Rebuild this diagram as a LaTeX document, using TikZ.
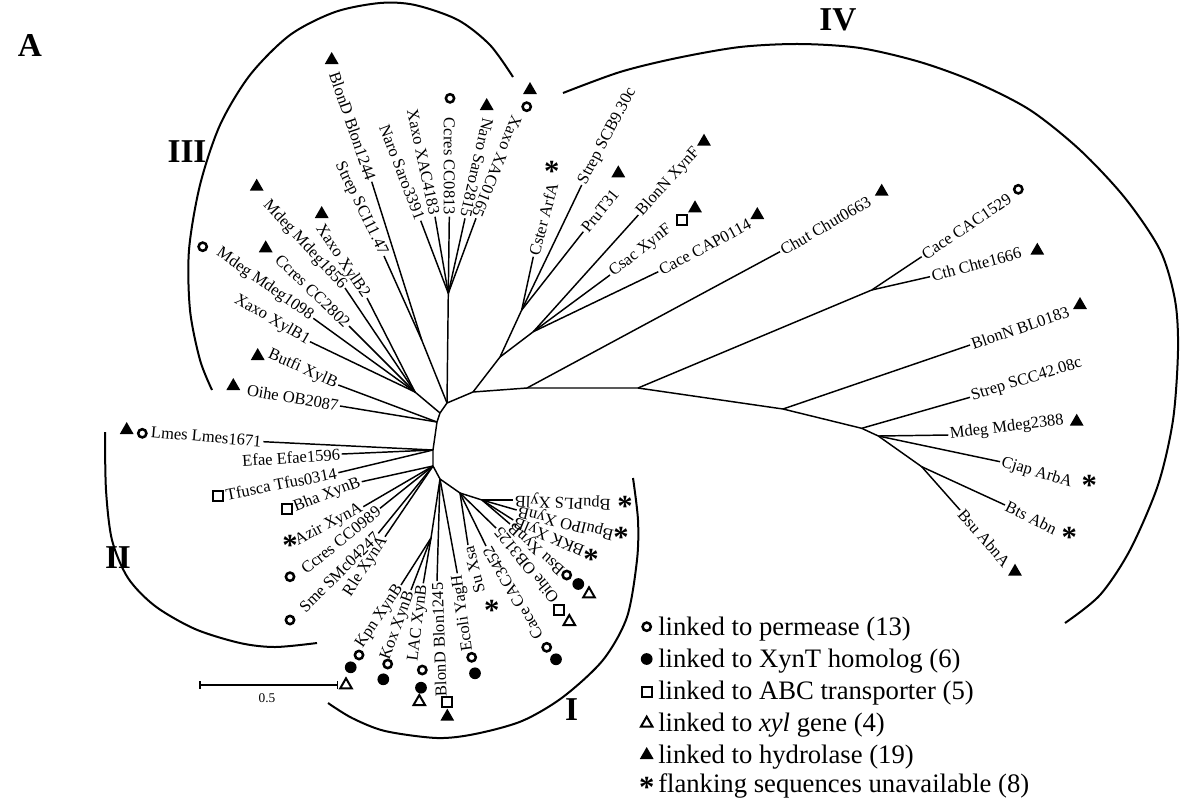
\documentclass[tikz,border=0pt]{standalone}
\usepackage{fontspec}
\setmainfont{Liberation Serif}
\usetikzlibrary{shapes.geometric}
\tikzset{
  branch/.style={line width=1.1pt},
  clade/.style={line width=1.5pt},
  lbl/.style={inner sep=1.2pt, font=\fontsize{12.4}{14}\selectfont},
  perm/.style={circle, draw, line width=1.9pt, minimum size=6.2pt, inner sep=0pt},
  xynt/.style={circle, fill, minimum size=8.8pt, inner sep=0pt},
  abc/.style={rectangle, draw, line width=1.6pt, minimum size=7.4pt, inner sep=0pt},
  xyl/.style={regular polygon, regular polygon sides=3, draw, line width=1.5pt, minimum size=10pt, inner sep=0pt},
  hyd/.style={regular polygon, regular polygon sides=3, fill, minimum size=12pt, inner sep=0pt},
  flank/.style={inner sep=0pt, font=\fontsize{23}{23}\selectfont\bfseries, text height=10pt, text depth=0pt, yshift=-6.4pt},
  cladename/.style={font=\fontsize{25}{25}\selectfont\bfseries},
  legtext/.style={anchor=base west, inner sep=0pt, font=\fontsize{20}{24}\selectfont}
}
\begin{document}
\begin{tikzpicture}[x=0.75pt, y=-0.75pt]
\useasboundingbox (0,0) rectangle (1181,801);

% inner ring and backbone
\coordinate (c1) at (447,403);
\coordinate (c2) at (473,392);
\coordinate (c3) at (527,388);
\coordinate (c4) at (638,388);
\coordinate (c5) at (440,413);
\coordinate (c6) at (437,422);
\coordinate (c7) at (433,450);
\coordinate (c8) at (433,466);
\coordinate (c9) at (440,479);
\coordinate (c10) at (460,493);
\coordinate (nD) at (500,357);
\coordinate (nA) at (521.7,310);
\coordinate (nB) at (533.3,331.7);
\coordinate (nN) at (448.3,293.3);
\coordinate (nM) at (421.7,340);
\coordinate (nX) at (415,392);
\coordinate (nK) at (431,538);
\coordinate (nB1) at (482,500);
\coordinate (n4a) at (871.7,290);
\coordinate (n4b) at (783,409);
\coordinate (n4s) at (861.7,428.3);
\coordinate (n4m) at (878.3,436);
\coordinate (n4c) at (921.7,466.7);

\draw[branch] (c2) -- (c1) -- (c5) -- (c6) -- (c7) -- (c8) -- (c9) -- (c10);
\draw[branch] (c2) -- (c3) -- (c4);
\draw[branch] (c2) -- (nD) -- (nA);
\draw[branch] (nD) -- (nB);
\draw[branch] (c1) -- (nN);
\draw[branch] (c1) -- (nM);
\draw[branch] (c5) -- (nX);
\draw[branch] (c9) -- (nK);
\draw[branch] (c10) -- (nB1);
\draw[branch] (c4) -- (n4a);
\draw[branch] (c4) -- (n4b) -- (n4s) -- (n4m) -- (n4c);

% leaves read outward
\foreach \nm/\up/\px/\py/\ang/\txt in {
  cac1529/n4a/921.7/256.7/34/Cace CAC1529,
  chte1666/n4a/930/276.7/15/Cth Chte1666,
  bl0183/n4b/970/345/19/BlonN BL0183,
  scc42/n4s/970/397.3/17/Strep SCC42.08c,
  mdeg2388/n4m/948.3/435/7/Mdeg Mdeg2388,
  arba/n4m/1000/461.7/-17/Cjap ArbA,
  abn/n4c/1005/505/-26/Bts Abn,
  abna/n4c/960/510/-49/Bsu AbnA,
  chut/c3/780/251.7/30/Chut Chut0663,
  arfa/nA/533.3/256.7/75/Cster ArfA,
  scb9/nA/581.7/185/62/Strep SCB9.30c,
  prut31/nA/583.3/231.7/51/PruT31,
  xynfbl/nB/638.3/215/48/BlonN XynF,
  xynfcs/nB/610/275/38/Csac XynF,
  cap0114/nB/658.3/271.7/28/Cace CAP0114}{
  \coordinate (\nm) at (\px,\py);
  \draw[branch] (\up) -- (\nm);
  \node[lbl, anchor=west, rotate=\ang] (\nm-t) at (\nm) {\txt};
}

% leaves read inward
\foreach \nm/\up/\px/\py/\ang/\txt in {
  saro3391/nN/420.7/220.7/-69/Naro Saro3391,
  xac4183/nN/435/216.7/-78/Xaxo XAC4183,
  cc0813/nN/449.3/216.7/-90/Ccres CC0813,
  saro2815/nN/465/218.3/-103/Naro Saro2815,
  xac0165/nN/476/218.3/-112/Xaxo XAC0165,
  blon1244/nM/371.7/181.7/-71/BlonD Blon1244,
  sci1147/nM/384/256/-64/Strep SCI11.47,
  xylb2/nX/367/298/-56/Xaxo XylB2,
  mdeg1856/nX/345/288/-47/Mdeg Mdeg1856,
  cc2802/nX/349/326/-44/Ccres CC2802,
  mdeg1098/nX/313.3/318.3/-35/Mdeg Mdeg1098,
  xylb1/nX/310/341.7/-30/Xaxo XylB1,
  butfi/c6/338.3/385/-24/Butfi XylB,
  ob2087/c6/340/406/-10/Oihe OB2087,
  lmes/c7/263.3/441.7/-5/Lmes Lmes1671,
  efae/c7/341.7/454/4/Efae Efae1596,
  tfus/c7/338.3/472.7/11/Tfusca Tfus0314,
  bha/c8/361.7/481.7/21/Bha XynB,
  azir/c8/363.3/506.7/28/Azir XynA,
  cc0989/c8/380/508.3/39/Ccres CC0989,
  smc/c8/378.3/533.3/45/Sme SMc04247,
  rle/c8/385/536.7/57/Rle XynA,
  kpn/nK/401/585/56/Kpn XynB,
  kox/nK/411/590/70/Kox XynB,
  lac/nK/423.3/583.3/83/LAC XynB,
  blon1245/c9/437/581/92/BlonD Blon1245,
  yagh/c9/457.3/573.3/98/Ecoli YagH,
  bpupls/nB1/513/500/178/BpuPLS XylB,
  bpuipo/nB1/516.7/510/166/BpuIPO XynB,
  bkk/nB1/513.3/520/157/BKK XylB,
  bsu/nB1/510/524/138/Bsu XynB,
  ob3125/c10/496/528/129/Oihe OB3125,
  cac3452/c10/486/546/120/Cace CAC3452,
  xsa/c10/468/545/104/Su Xsa}{
  \coordinate (\nm) at (\px,\py);
  \draw[branch] (\up) -- (\nm);
  \node[lbl, anchor=east, rotate=\ang] (\nm-t) at (\nm) {\txt};
}

% markers beside the labels
\foreach \s/\px/\py [count=\i] in {
  perm/1018.3/189.3, hyd/1037.3/250.7, hyd/1080/305, hyd/1076.7/421.7,
  hyd/1015/571.7, hyd/881.7/191.7, hyd/757.3/215,
  hyd/618.3/173.3, hyd/704/141.7, abc/681.7/220, hyd/695/208.3,
  perm/450/98.3, hyd/486.7/106, perm/526.7/106.7, hyd/530/90,
  hyd/331.7/60,
  hyd/321.7/214, hyd/256.7/186.7, hyd/265.7/248.3, perm/202.7/246.7,
  hyd/257.7/356, hyd/233.3/386,
  hyd/126.7/430, perm/142.3/433.3, abc/217.7/495.7, abc/286.7/509.3,
  perm/290/576.7, perm/290/620,
  perm/359/655, xynt/350.7/667.3, xyl/346/685,
  perm/387.7/664, xynt/383.3/679.3,
  perm/422.3/670, xynt/421/687.7, xyl/419.3/701.7,
  abc/446.7/701.7, hyd/447.3/716.7,
  perm/471.7/657.3, xynt/475/673.3,
  perm/566.7/575, xynt/578.3/584, xyl/589/594,
  abc/559/610, xyl/569.3/621.7,
  perm/546.7/647.3, xynt/556/659.3}{
  \node[\s] (m\i) at (\px,\py) {};
}
\foreach \px/\py [count=\i] in {551.7/166.7, 1089.3/480, 1069.3/532.7, 290/540,
  625/501, 621/532, 591/554, 491.7/605}{
  \node[flank] (f\i) at (\px,\py) {*};
}

% clade outlines
\draw[clade] plot[smooth] coordinates {(513,77) (490,45) (458,20) (415,5) (380,3)
  (335,12) (290,35) (250,75) (220,125) (200,185) (189,250) (190,310) (200,360) (212,390)};
\draw[clade] plot[smooth] coordinates {(563,93) (620,72) (677,58) (740,47) (800,44)
  (860,48) (920,62) (975,82) (1030,110) (1080,150) (1125,198) (1160,250) (1175,300)
  (1178,350) (1173,420) (1158,485) (1130,550) (1100,595) (1065,623)};
\draw[clade] plot[smooth] coordinates {(105,432) (106,490) (112,540) (128,578)
  (155,606) (195,629) (240,643) (275,647) (317,643)};
\draw[clade] plot[smooth] coordinates {(328,703) (352,718) (385,731) (437,738)
  (475,734) (522,721) (563,697) (603,660) (627,617) (637,560) (638,520) (633,478)};

\node[cladename] (pA) at (30,45) {A};
\node[cladename] (cIV) at (838,20) {IV};
\node[cladename] (cIII) at (187,152) {III};
\node[cladename] (cII) at (118,558) {II};
\node[cladename] (cI) at (571.7,710) {I};

% scale bar
\coordinate (s0) at (200,685);
\coordinate (s1) at (337.7,685);
\draw[branch] (s0) -- (s1);
\draw[branch] ([yshift=3pt]s0) -- ([yshift=-3pt]s0);
\draw[branch] ([yshift=3pt]s1) -- ([yshift=-3pt]s1);
\node[font=\fontsize{10}{10}\selectfont] (sc) at (267,698) {0.5};

% legend
\node[perm] (k1) at (646.7,626.7) {};
\node[xynt] (k2) at (646.7,659) {};
\node[abc] (k3) at (646.7,691.7) {};
\node[xyl] (k4) at (646.7,723.3) {};
\node[hyd] (k5) at (646.7,755) {};
\node[flank] (k6) at (646.7,782) {*};
\node[legtext] (t1) at (658,635.5) {linked to permease (13)};
\node[legtext] (t2) at (658,667.5) {linked to XynT homolog (6)};
\node[legtext] (t3) at (658,699.5) {linked to ABC transporter (5)};
\node[legtext] (t4) at (658,731) {linked to \textit{xyl} gene (4)};
\node[legtext] (t5) at (658,763) {linked to hydrolase (19)};
\node[legtext] (t6) at (658,792) {flanking sequences unavailable (8)};
\end{tikzpicture}
\end{document}
